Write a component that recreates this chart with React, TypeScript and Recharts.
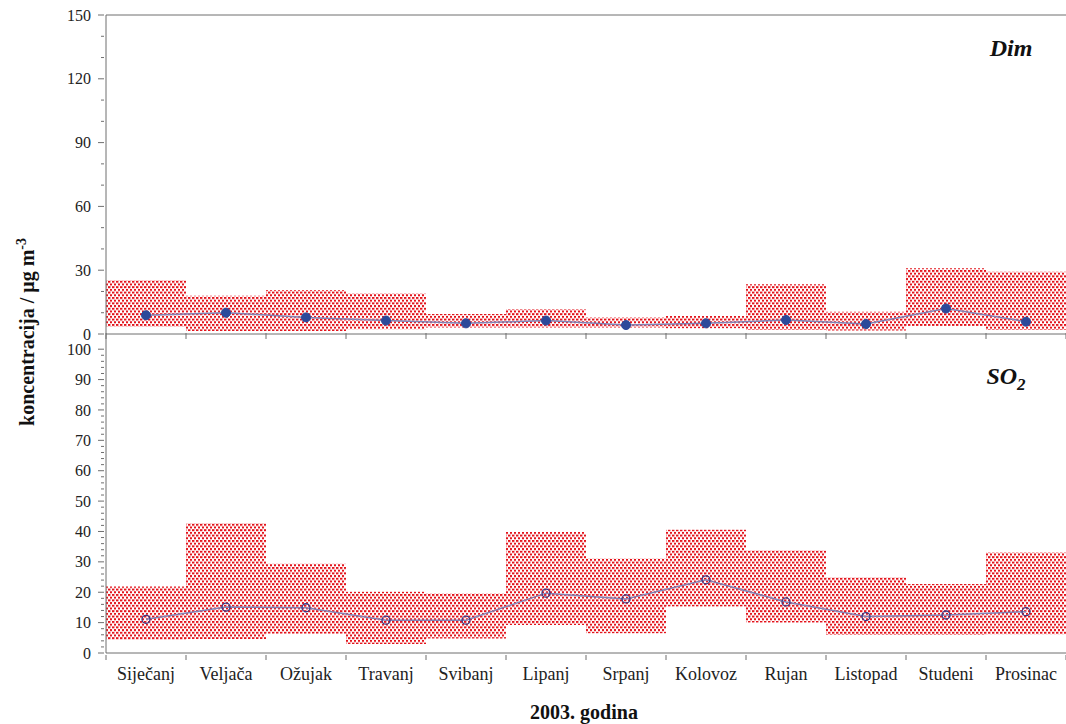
import React from "react";
import { Bar, ComposedChart, Line, ReferenceLine, XAxis, YAxis } from "recharts";

const months = [
  "Siječanj", "Veljača", "Ožujak", "Travanj", "Svibanj", "Lipanj",
  "Srpanj", "Kolovoz", "Rujan", "Listopad", "Studeni", "Prosinac",
];

// Dim (smoke), µg/m3: monthly min / max range and mean
const dimMin = [3.4, 1.4, 1.4, 2.2, 3.1, 3.1, 3.1, 2.7, 1.9, 1.6, 3.8, 1.9];
const dimMax = [25.4, 18.0, 20.7, 19.1, 9.4, 11.6, 7.7, 8.5, 23.4, 10.5, 30.9, 29.3];
const dimMean = [8.8, 10.0, 7.8, 6.3, 5.0, 6.3, 4.2, 5.0, 6.6, 4.7, 12.0, 5.8];

// SO2, µg/m3
const so2Min = [4.3, 4.6, 6.3, 3.0, 4.8, 9.2, 6.5, 15.3, 10.0, 5.9, 5.9, 6.2];
const so2Max = [21.9, 42.8, 29.4, 20.2, 19.7, 39.8, 31.2, 40.6, 33.8, 24.9, 22.7, 33.1];
const so2Mean = [11.1, 15.1, 14.9, 10.8, 10.8, 19.7, 17.8, 24.1, 16.8, 12.0, 12.5, 13.6];

const dimMajor = [0, 30, 60, 90, 120, 150];
const dimMinorStep = 10;
const so2Major = [0, 10, 20, 30, 40, 50, 60, 70, 80, 90, 100];
const so2MinorStep = 2;

const minorTicks = (max: number, step: number) => {
  const out: number[] = [];
  for (let v = 0; v <= max; v += step) out.push(v);
  return out;
};

const dimData = months.map((m, i) => ({ month: m, range: [dimMin[i], dimMax[i]], mean: dimMean[i] }));
const so2Data = months.map((m, i) => ({ month: m, range: [so2Min[i], so2Max[i]], mean: so2Mean[i] }));

const SERIF = '"Liberation Serif", "Times New Roman", Times, "DejaVu Serif", serif';
const AXIS = "#6f6f6f";
const RED = "#e3141c";
const LINE = "#8282b4";

function DotPattern({ id }: { id: string }) {
  return (
    <defs>
      <pattern id={id} width={4} height={5.4} patternUnits="userSpaceOnUse">
        <rect x={0} y={0} width={2.4} height={2} fill={RED} />
        <rect x={2} y={2.7} width={2.4} height={2} fill={RED} />
      </pattern>
    </defs>
  );
}

function YTick(props: any) {
  const { x, y, payload, majors } = props;
  const isMajor = majors.includes(payload.value);
  return (
    <g>
      <line x1={x} x2={x - (isMajor ? 6 : 3)} y1={y} y2={y} stroke={AXIS} strokeWidth={1} />
      {isMajor && (
        <text x={x - 13} y={y} dy="0.35em" textAnchor="end" fill="#222" style={{ fontFamily: SERIF, fontSize: 16 }}>
          {payload.value}
        </text>
      )}
    </g>
  );
}

function XTick(props: any) {
  const { x, y, payload, index, withLabel, up } = props;
  const half = payload.offset ?? 40;
  const y1 = up ? y - 3 : y;
  const y2 = y + (up ? 3 : 5);
  return (
    <g>
      {index === 0 && <line x1={x - half} x2={x - half} y1={y1} y2={y2} stroke={AXIS} />}
      <line x1={x + half} x2={x + half} y1={y1} y2={y2} stroke={AXIS} />
      {withLabel && (
        <text x={x} y={y + 25} textAnchor="middle" fill="#222" style={{ fontFamily: SERIF, fontSize: 18 }}>
          {payload.value}
        </text>
      )}
    </g>
  );
}

export default function App() {
  return (
    <div style={{ position: "absolute", left: 0, top: 0, width: 1066, height: 724, background: "#fff", fontFamily: SERIF }}>
      <div style={{ position: "absolute", left: 0, top: 0 }}>
        <ComposedChart
          width={1066}
          height={345}
          data={dimData}
          margin={{ top: 15, right: 0, bottom: 0, left: 0 }}
          barCategoryGap={0}
          barGap={0}
        >
          <DotPattern id="dotsDim" />
          <XAxis
            dataKey="month"
            height={11}
            interval={0}
            tickSize={0}
            tickLine={false}
            axisLine={{ stroke: AXIS }}
            tick={(p: any) => <XTick {...p} up withLabel={false} />}
          />
          <YAxis
            width={106}
            domain={[0, 150]}
            ticks={minorTicks(150, dimMinorStep)}
            interval={0}
            tickSize={0}
            tickLine={false}
            axisLine={{ stroke: AXIS }}
            tick={(p: any) => <YTick {...p} majors={dimMajor} />}
          />
          <ReferenceLine y={150} stroke={AXIS} />
          <Bar dataKey="range" fill="url(#dotsDim)" isAnimationActive={false} />
          <Line
            dataKey="mean"
            type="linear"
            stroke={LINE}
            strokeWidth={1.5}
            dot={{ r: 4.5, fill: "#2c4a9a", stroke: "#2c4a9a", strokeWidth: 1 }}
            isAnimationActive={false}
          />
        </ComposedChart>
      </div>

      <div style={{ position: "absolute", left: 0, top: 324 }}>
        <ComposedChart
          width={1066}
          height={400}
          data={so2Data}
          margin={{ top: 10, right: 0, bottom: 0, left: 0 }}
          barCategoryGap={0}
          barGap={0}
        >
          <DotPattern id="dotsSo2" />
          <XAxis
            dataKey="month"
            height={71}
            interval={0}
            tickSize={0}
            tickLine={false}
            axisLine={{ stroke: AXIS }}
            tick={(p: any) => <XTick {...p} withLabel />}
          />
          <YAxis
            width={106}
            domain={[0, 105]}
            ticks={minorTicks(100, so2MinorStep)}
            interval={0}
            tickSize={0}
            tickLine={false}
            axisLine={{ stroke: AXIS }}
            tick={(p: any) => <YTick {...p} majors={so2Major} />}
          />
          <Bar dataKey="range" fill="url(#dotsSo2)" isAnimationActive={false} />
          <Line
            dataKey="mean"
            type="linear"
            stroke={LINE}
            strokeWidth={1.5}
            dot={{ r: 4, fill: "none", stroke: "#3a3a86", strokeWidth: 1.3 }}
            isAnimationActive={false}
          />
        </ComposedChart>
      </div>

      <svg
        width={1066}
        height={724}
        style={{ position: "absolute", left: 0, top: 0, pointerEvents: "none", fontFamily: SERIF }}
      >
        <text
          x={27}
          y={332}
          transform="rotate(-90, 27, 332)"
          textAnchor="middle"
          dy="0.35em"
          fill="#111"
          style={{ fontSize: 20, fontWeight: "bold" }}
        >
          koncentracija / μg m<tspan dy={-8} style={{ fontSize: 14 }}>-3</tspan>
        </text>
        <text x={584} y={719} textAnchor="middle" fill="#111" style={{ fontSize: 20, fontWeight: "bold" }}>
          2003. godina
        </text>
        <text x={1011} y={56} textAnchor="middle" fill="#111" style={{ fontSize: 24, fontWeight: "bold", fontStyle: "italic" }}>
          Dim
        </text>
        <text x={1006} y={384} textAnchor="middle" fill="#111" style={{ fontSize: 24, fontWeight: "bold", fontStyle: "italic" }}>
          SO<tspan dy={6} style={{ fontSize: 17 }}>2</tspan>
        </text>
      </svg>
    </div>
  );
}
